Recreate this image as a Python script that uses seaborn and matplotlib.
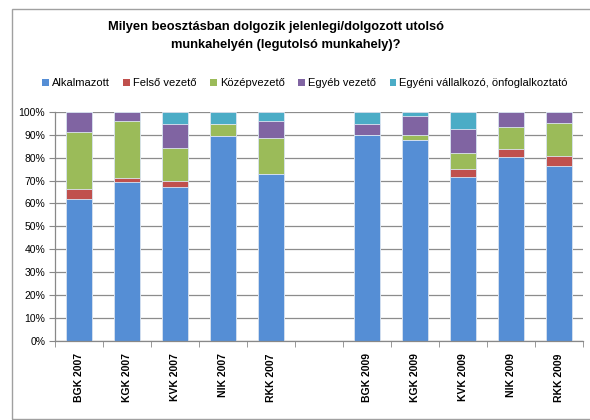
import matplotlib
matplotlib.use("Agg")
import matplotlib.pyplot as plt
import seaborn as sns
import pandas as pd
import numpy as np
from matplotlib.patches import Rectangle, Patch

categories = ["BGK 2007", "KGK 2007", "KVK 2007", "NIK 2007", "RKK 2007", "",
              "BGK 2009", "KGK 2009", "KVK 2009", "NIK 2009", "RKK 2009"]
series = ["Alkalmazott", "Felső vezető", "Középvezető", "Egyéb vezető",
          "Egyéni vállalkozó, önfoglalkoztató"]
alkalmazott = [62.0, 69.5, 67.1, 89.6, 73.0, np.nan, 89.9, 87.9, 71.4, 80.5, 76.2]
felso       = [4.5, 1.8, 2.7, 0.0, 0.0, np.nan, 0.0, 0.0, 3.5, 3.2, 4.7]
kozep       = [24.8, 24.8, 14.6, 5.2, 15.6, np.nan, 0.0, 2.0, 7.2, 9.7, 14.4]
egyeb       = [8.7, 3.9, 10.5, 0.0, 7.5, np.nan, 5.0, 8.2, 10.6, 6.6, 4.7]
egyeni      = [0.0, 0.0, 5.1, 5.2, 3.9, np.nan, 5.1, 1.9, 7.3, 0.0, 0.0]
colors = ["#558ED5", "#C0504D", "#9BBB59", "#8064A2", "#4BACC6"]

df = pd.DataFrame({"cat": categories, series[0]: alkalmazott, series[1]: felso,
                   series[2]: kozep, series[3]: egyeb, series[4]: egyeni})
vals = df[series].to_numpy()
cum = np.cumsum(vals, axis=1)
cum = cum / cum[:, -1:] * 100

plt.rcParams['font.family'] = ['Liberation Sans', 'DejaVu Sans']
fig = plt.figure(figsize=(5.9, 4.2), dpi=100)
ax = fig.add_axes([55/590, 1-340.7/420, 528/590, (340.7-112)/420])

for i in range(len(series) - 1, -1, -1):
    d = pd.DataFrame({"cat": categories, "v": cum[:, i]})
    sns.barplot(data=d, x="cat", y="v", order=categories, color=colors[i],
                saturation=1, width=0.55, ax=ax, edgecolor="#DCE6F2",
                linewidth=0.6, zorder=2)

ax.set_ylim(0, 100)
ax.set_xlim(-0.5, len(categories) - 0.5)
ax.set_yticks(np.arange(0, 101, 10))
ax.set_yticklabels([f"{v}%" for v in range(0, 101, 10)], fontsize=7.5)
ax.set_xticks(range(len(categories)))
ax.set_xticklabels(categories, rotation=90, fontsize=7.5, fontweight="bold")
ax.set_xticks(np.arange(-0.5, len(categories), 1), minor=True)
ax.tick_params(axis="x", which="major", length=0, pad=9)
ax.tick_params(axis="x", which="minor", length=4, color="#888888")
ax.tick_params(axis="y", length=4, color="#888888", pad=3)
ax.set_xlabel("")
ax.set_ylabel("")
ax.yaxis.grid(True, color="#8C8C8C", linewidth=0.9, zorder=0)
ax.set_axisbelow(True)
for s in ["top", "right"]:
    ax.spines[s].set_visible(False)
for s in ["left", "bottom"]:
    ax.spines[s].set_color("#888888")
    ax.spines[s].set_linewidth(0.9)

t1 = fig.text(275.5/590, 1-27/420, "Milyen beosztásban dolgozik jelenlegi/dolgozott utolsó",
              ha="center", va="center", fontsize=10, fontweight="bold")
t2 = fig.text(286/590, 1-45/420, "munkahelyén (legutolsó munkahely)?",
              ha="center", va="center", fontsize=10, fontweight="bold")
# fit title width to the reference (line 1 spans about 337 px)
r = fig.canvas.get_renderer()
w = t1.get_window_extent(r).width
fs = 10 * 337 / w
t1.set_fontsize(fs)
t2.set_fontsize(fs)

handles = [Patch(facecolor=c, edgecolor="none") for c in colors]
fig.legend(handles, series, loc="center", bbox_to_anchor=(305/590, 1-83/420), ncol=5,
           frameon=False, fontsize=8.0, handlelength=0.6, handleheight=0.6,
           handletextpad=0.25, columnspacing=1.25)

fig.patches.append(Rectangle((12/590, 1-419/420), 1.0, 410/420, transform=fig.transFigure,
                             fill=False, edgecolor="#A0A0A0", linewidth=1.0))

fig.savefig("out.png", dpi=100)
